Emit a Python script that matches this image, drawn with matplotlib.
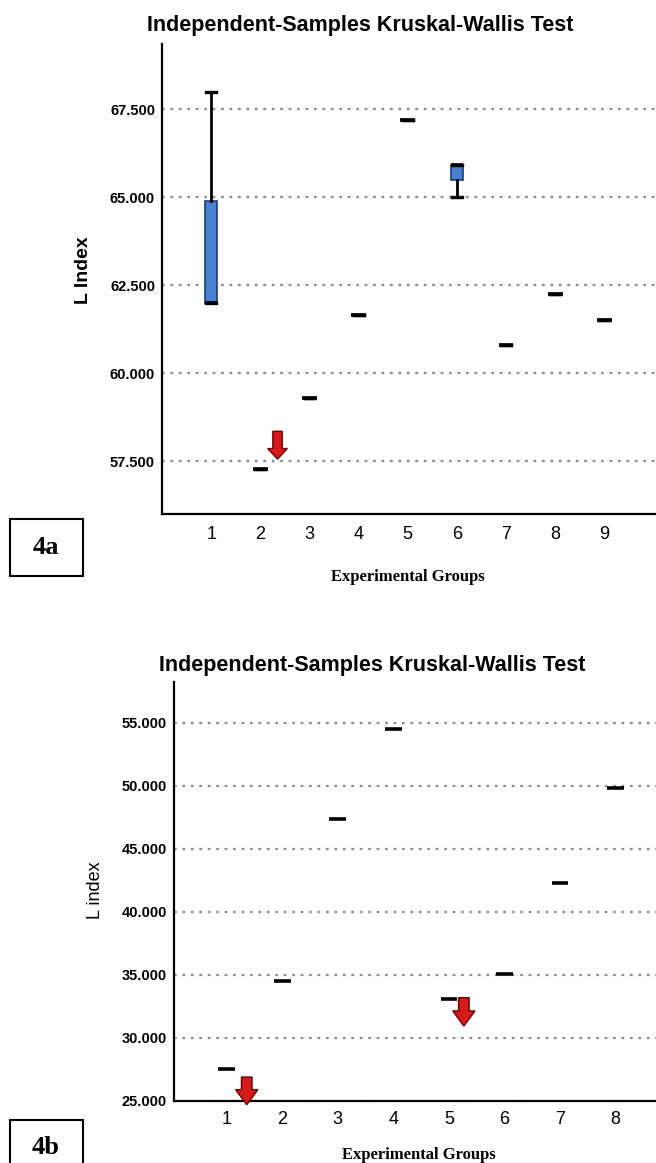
import matplotlib
matplotlib.use("Agg")
import matplotlib.pyplot as plt
from matplotlib.patches import Rectangle, FancyArrow

# ---- data ----
# 4a: L index per experimental group (groups 1 and 6 have a spread)
groups_a = [1, 2, 3, 4, 5, 6, 7, 8, 9]
q1_a = [62.0, 57.29, 59.3, 61.64, 67.2, 65.5, 60.79, 62.24, 61.51]
med_a = [62.0, 57.29, 59.3, 61.64, 67.2, 65.9, 60.79, 62.24, 61.51]
q3_a = [64.9, 57.29, 59.3, 61.64, 67.2, 65.9, 60.79, 62.24, 61.51]
lo_a = [62.0, 57.29, 59.3, 61.64, 67.2, 65.0, 60.79, 62.24, 61.51]
hi_a = [68.0, 57.29, 59.3, 61.64, 67.2, 65.9, 60.79, 62.24, 61.51]
arrows_a = [(2.35, 58.35, 57.56)]  # x, top, tip

# 4b: single value per group
groups_b = [1, 2, 3, 4, 5, 6, 7, 8]
vals_b = [27.5, 34.5, 47.4, 54.5, 33.1, 35.1, 42.3, 49.8]
arrows_b = [(1.36, 26.9, 24.7), (5.27, 33.2, 30.95)]

yticks_a = [57.5, 60.0, 62.5, 65.0, 67.5]
yticks_b = [25, 30, 35, 40, 45, 50, 55]

TITLE = "Independent-Samples Kruskal-Wallis Test"
W, H = 656, 1163

plt.rcParams['font.family'] = ['Liberation Sans', 'DejaVu Sans']


def fx(px):
    return px / W


def fy(py):
    return 1 - py / H


def style_axis(ax, yticks):
    for s in ("top", "right"):
        ax.spines[s].set_visible(False)
    for s in ("left", "bottom"):
        ax.spines[s].set_linewidth(1.6)
    ax.set_yticks(yticks)
    ax.set_yticklabels([f"{v:.3f}" for v in yticks], fontsize=10.5, fontweight="bold")
    ax.tick_params(axis="both", length=0)
    ax.tick_params(axis="y", pad=5)
    ax.tick_params(axis="x", labelsize=13, pad=9)
    ax.yaxis.grid(True, linestyle=(0, (1.2, 2.6)), linewidth=1.6, color="#8a8a8a")
    ax.set_axisbelow(True)


def red_arrow(ax, x, top, tip, head_len, shaft_w=0.19, head_w=0.4):
    ax.add_patch(FancyArrow(x, top, 0, tip - top, width=shaft_w, head_width=head_w,
                            head_length=head_len, length_includes_head=True,
                            facecolor="#d41a1a", edgecolor="#6b0000", linewidth=1.0,
                            clip_on=False, zorder=5))


fig = plt.figure(figsize=(W / 100, H / 100), dpi=100)

# ---------------- 4a ----------------
ax1 = fig.add_axes([fx(162), fy(514), 1 - fx(162), (514 - 44) / H])
stats = []
for g, a, m, b, lo, hi in zip(groups_a, q1_a, med_a, q3_a, lo_a, hi_a):
    stats.append(dict(label=str(g), q1=a, med=m, q3=b, whislo=lo, whishi=hi, fliers=[]))
widths = [0.24 if q3 > q1 else 0.3 for q1, q3 in zip(q1_a, q3_a)]
ax1.bxp(stats, positions=groups_a, widths=widths, patch_artist=True, showfliers=False,
        boxprops=dict(facecolor="#4a80d0", edgecolor="#1d3d78", linewidth=1.2),
        medianprops=dict(color="black", linewidth=2.6),
        whiskerprops=dict(color="black", linewidth=2.0),
        capprops=dict(color="black", linewidth=2.4), capwidths=0.2)
ax1.set_xlim(0, 10.05)
ax1.set_ylim(56.0, 69.35)
style_axis(ax1, yticks_a)
ax1.set_xticks(groups_a)
ax1.set_xticklabels([str(g) for g in groups_a])
for x, top, tip in arrows_a:
    red_arrow(ax1, x, top, tip, head_len=0.3)

fig.text(fx(360), fy(26), TITLE, ha="center", va="center", fontsize=15.5, fontweight="bold")
fig.text(fx(83), fy(270), "L Index", ha="center", va="center", rotation=90,
         fontsize=14, fontweight="bold")
fig.text(fx(408), fy(577), "Experimental Groups", ha="center", va="center",
         fontsize=12, fontweight="bold", family="Liberation Serif")

fig.patches.append(Rectangle((fx(10), fy(576)), 73 / W, 57 / H, transform=fig.transFigure,
                             fill=False, edgecolor="black", linewidth=1.5))
fig.text(fx(46), fy(547), "4a", ha="center", va="center", fontsize=19,
         fontweight="bold", family="Liberation Serif")

# ---------------- 4b ----------------
ax2 = fig.add_axes([fx(174), fy(1101), 1 - fx(174), (1101 - 682) / H])
ax2.hlines(vals_b, [g - 0.15 for g in groups_b], [g + 0.15 for g in groups_b],
           color="black", linewidth=2.6, zorder=3)
ax2.set_xlim(0.05, 8.73)
ax2.set_ylim(25, 58.25)
style_axis(ax2, yticks_b)
ax2.set_xticks(groups_b)
ax2.set_xticklabels([str(g) for g in groups_b])
ax2.tick_params(axis="x", pad=7)
for x, top, tip in arrows_b:
    red_arrow(ax2, x, top, tip, head_len=1.2)

fig.text(fx(372), fy(665), TITLE, ha="center", va="center", fontsize=15.5, fontweight="bold")
fig.text(fx(95), fy(890), "L index", ha="center", va="center", rotation=90, fontsize=13)
fig.text(fx(419), fy(1155), "Experimental Groups", ha="center", va="center",
         fontsize=12, fontweight="bold", family="Liberation Serif")

fig.patches.append(Rectangle((fx(10), fy(1177)), 73 / W, 57 / H, transform=fig.transFigure,
                             fill=False, edgecolor="black", linewidth=1.5))
fig.text(fx(46), fy(1147), "4b", ha="center", va="center", fontsize=19,
         fontweight="bold", family="Liberation Serif")

fig.savefig("out.png", dpi=100)
